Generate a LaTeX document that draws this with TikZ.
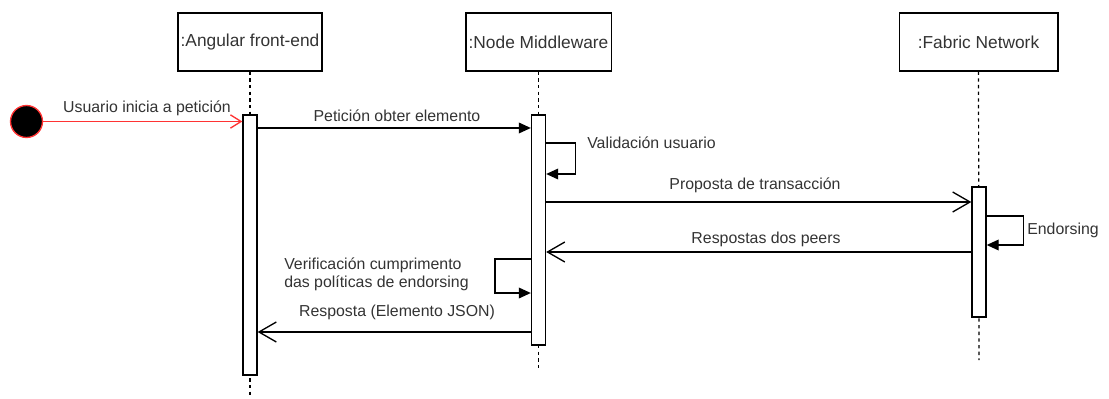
\documentclass[tikz,border=0pt]{standalone}
\usepackage{fontspec}
\setmainfont{Liberation Sans}
\usepackage{tikz}
\usetikzlibrary{arrows.meta}
\definecolor{labelgray}{HTML}{333333}
\definecolor{startred}{HTML}{FF3333}

\begin{document}
\begin{tikzpicture}[x=0.75pt, y=-0.75pt,
        header/.style={draw, line width=1pt, inner sep=0pt, minimum height=43.5pt,
            text=labelgray, font=\fontsize{13}{15}\selectfont},
        bar/.style={draw, fill=white, line width=1pt, inner sep=0pt, minimum width=10.5pt},
        lifeline/.style={line width=0.9pt, dash pattern=on 2.5pt off 2.5pt},
        msglabel/.style={text=labelgray, inner sep=0pt, font=\fontsize{11.9}{13.6}\selectfont},
        callmsg/.style={line width=1pt, -{Triangle[length=9pt, width=8pt]}},
        replymsg/.style={line width=1pt, -{Straight Barb[length=13pt, width=15pt]}},
        startmsg/.style={line width=1pt, startred, -{Straight Barb[length=8pt, width=10pt]}}]
        \useasboundingbox (0,0) rectangle (1109,399);

        % lifeline heads
        \node[header, minimum width=108pt] (hdrA) at (250,42) {:Angular front-end};
        \node[header, minimum width=109pt] (hdrB) at (538.5,42) {:Node Middleware};
        \node[header, minimum width=119pt] (hdrC) at (978.5,42) {:Fabric Network};

        \coordinate (endA) at (250,395);
        \coordinate (endB) at (538.5,370);
        \coordinate (endC) at (979,360);
        \draw[lifeline] (hdrA.south) -- (endA);
        \draw[lifeline] (hdrB.south) -- (endB);
        \draw[lifeline] (hdrC.south) -- (endC);

        % activations
        \node[bar, minimum height=195pt] (barA) at (250,245) {};
        \node[bar, minimum height=172.5pt] (barB) at (538.5,230) {};
        \node[bar, minimum height=97.5pt] (barC) at (979,252) {};

        \node[circle, draw=startred, fill=black, line width=1pt, minimum size=24pt, inner sep=0pt] (start) at (26.5,121.5) {};

        % messages
        \draw[startmsg] (start) -- (barA.west |- start);
        \draw[callmsg] (barA.east |- 0,128) -- (barB.west |- 0,128);
        \draw[callmsg] (barB.east |- 0,143) -- ++(29,0) -- ++(0,31) -- (barB.east |- 0,174);
        \draw[replymsg] (barB.east |- 0,202) -- (barC.west |- 0,202);
        \draw[callmsg] (barC.east |- 0,216) -- ++(37,0) -- ++(0,29) -- (barC.east |- 0,245);
        \draw[replymsg] (barC.west |- 0,252) -- (barB.east |- 0,252);
        \draw[callmsg] (barB.west |- 0,259) -- ++(-36,0) -- ++(0,34) -- (barB.west |- 0,293);
        \draw[replymsg] (barB.west |- 0,332) -- (barA.east |- 0,332);

        \node[msglabel] (lblStart) at (147,108) {Usuario inicia a petición};
        \node[msglabel] (lblReq) at (397,116) {Petición obter elemento};
        \node[msglabel, anchor=west] (lblVal) at (587,143) {Validación usuario};
        \node[msglabel] (lblProp) at (755,185) {Proposta de transacción};
        \node[msglabel, anchor=west] (lblEnd) at (1027,230) {Endorsing};
        \node[msglabel] (lblPeers) at (766,239) {Respostas dos peers};
        \node[msglabel, align=left, anchor=west] (lblVer) at (284,274) {Verificación cumprimento\\das políticas de endorsing};
        \node[msglabel] (lblResp) at (397,312) {Resposta (Elemento JSON)};

    \end{tikzpicture}
\end{document}
